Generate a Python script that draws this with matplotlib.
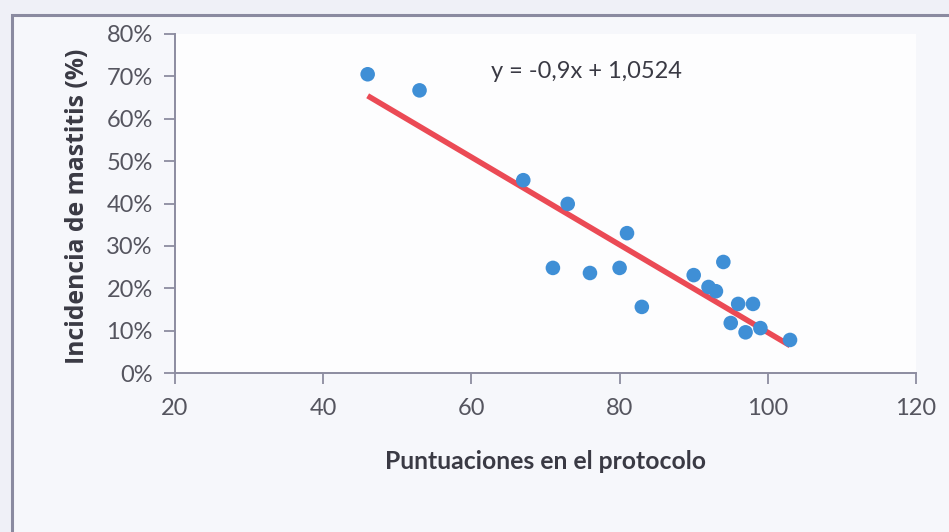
import numpy as np
import matplotlib
matplotlib.use("Agg")
import matplotlib.pyplot as plt
from matplotlib.patches import Rectangle
from matplotlib.ticker import FuncFormatter

# Puntuaciones del protocolo y su incidencia de mastitis (fracción)
puntuaciones = [46, 53, 67, 73, 71, 76, 80, 81, 83, 90, 92, 93, 94, 95, 96, 97, 98, 99, 103]
incidencia = [0.705, 0.667, 0.455, 0.399, 0.248, 0.236, 0.248, 0.330, 0.156,
              0.231, 0.203, 0.193, 0.262, 0.118, 0.163, 0.096, 0.163, 0.106, 0.078]

x_ticks = [20, 40, 60, 80, 100, 120]
y_ticks = [0.0, 0.1, 0.2, 0.3, 0.4, 0.5, 0.6, 0.7, 0.8]
ecuacion = "y = -0,9x + 1,0524"

plt.rcParams['font.family'] = ['Lato', 'DejaVu Sans']

fig = plt.figure(figsize=(9.49, 5.32), dpi=100)
fig.patch.set_facecolor("#eff0f7")

# marco del gráfico
W, H = 949, 532
marco = Rectangle((12 / W, -0.05), 1.0, (H - 15) / H + 0.05,
                  transform=fig.transFigure, facecolor="#f6f7fb",
                  edgecolor="#8a8aa0", linewidth=2.2, zorder=-5)
fig.add_artist(marco)

ax = fig.add_axes([175 / W, (H - 373) / H, (916 - 175) / W, (373 - 34) / H])
ax.set_zorder(2)
ax.set_facecolor("#fdfdfe")

x = np.array(puntuaciones, dtype=float)
y = np.array(incidencia, dtype=float)

ax.scatter(x, y, s=110, color="#3f8fd6", edgecolors="none", zorder=3)

# línea de tendencia por mínimos cuadrados
m, b = np.polyfit(x, y, 1)
xl = np.array([x.min(), x.max()])
ax.plot(xl, m * xl + b, color="#eb4a55", linewidth=4, solid_capstyle="butt", zorder=2)

ax.set_xlim(20, 120)
ax.set_ylim(0, 0.8)
ax.set_xticks(x_ticks)
ax.set_yticks(y_ticks)
ax.yaxis.set_major_formatter(FuncFormatter(lambda v, p: f"{v * 100:.0f}%"))

for s in ("top", "right"):
    ax.spines[s].set_visible(False)
for s in ("left", "bottom"):
    ax.spines[s].set_color("#8c8ca0")
    ax.spines[s].set_linewidth(1.4)

ax.tick_params(axis="both", direction="out", length=8, width=1.3, color="#8c8ca0",
               labelsize=17, labelcolor="#55555f")
ax.tick_params(axis="x", pad=10)
ax.tick_params(axis="y", pad=8)

ax.set_xlabel("Puntuaciones en el protocolo", fontsize=17.8, fontweight="bold",
              color="#3a3a44")
ax.set_ylabel("Incidencia de mastitis (%)", fontsize=17.8,
              family=["Open Sans", "DejaVu Sans"], fontweight="bold", color="#3a3a44")
ax.xaxis.set_label_coords(0.5, -(450 - 373) / 339)
ax.yaxis.set_label_coords(-(175 - 90) / 741, (373 - 206) / 339)

ax.text(586 / W, (H - 72) / H, ecuacion, transform=fig.transFigure, fontsize=17,
        color="#3a3a44", ha="center", va="center")

fig.savefig("out.png", dpi=100, facecolor=fig.get_facecolor())
